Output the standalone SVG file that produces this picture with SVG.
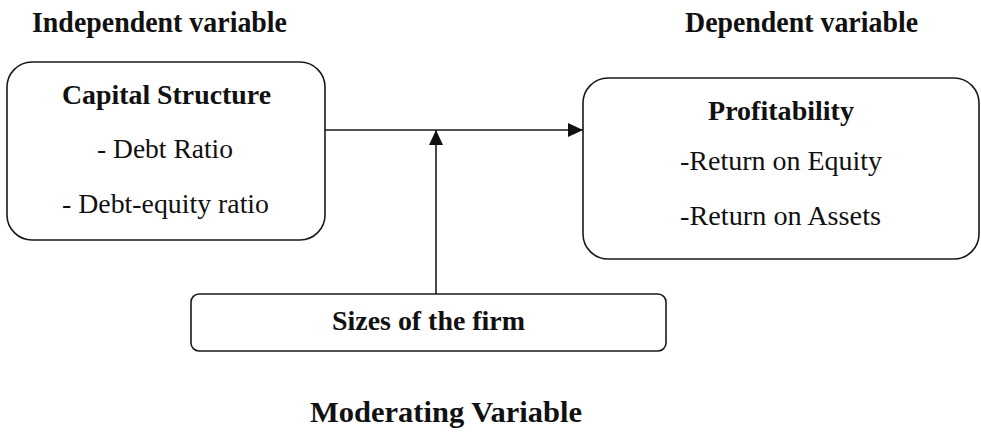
<svg xmlns="http://www.w3.org/2000/svg" width="981" height="442" viewBox="0 0 981 442" font-family="Liberation Serif, DejaVu Serif, serif">
<style>
.box{fill:#fff;stroke:#1a1a1a;stroke-width:1.6}
.t{fill:#111;text-anchor:middle}
.b{font-weight:bold}
.line{stroke:#1a1a1a;stroke-width:1.6;fill:none}
</style>
<defs>
<marker id="ah" markerWidth="15" markerHeight="14" refX="15" refY="7" orient="auto" markerUnits="userSpaceOnUse">
<path d="M0,0 L15,7 L0,14 Z" fill="#111"/>
</marker>
</defs>
<rect width="981" height="442" fill="#fff"/>
<g id="header-independent"><text class="t b" x="159.5" y="32" font-size="29" textLength="255" lengthAdjust="spacingAndGlyphs">Independent variable</text></g>
<g id="header-dependent"><text class="t b" x="801.5" y="32" font-size="29" textLength="233" lengthAdjust="spacingAndGlyphs">Dependent variable</text></g>
<g id="capital-structure">
<rect class="box" x="7" y="62" width="318" height="178" rx="25"/>
<text class="t b" x="166.5" y="104" font-size="27.5" textLength="209" lengthAdjust="spacingAndGlyphs">Capital Structure</text>
<text class="t" x="165" y="158" font-size="27.5" textLength="136" lengthAdjust="spacingAndGlyphs">- Debt Ratio</text>
<text class="t" x="165.5" y="213" font-size="27.5" textLength="207" lengthAdjust="spacingAndGlyphs">- Debt-equity ratio</text>
</g>
<g id="profitability">
<rect class="box" x="583" y="78" width="396" height="181" rx="25"/>
<text class="t b" x="781" y="120" font-size="27.5" textLength="146" lengthAdjust="spacingAndGlyphs">Profitability</text>
<text class="t" x="781" y="170" font-size="27.5" textLength="202" lengthAdjust="spacingAndGlyphs">-Return on Equity</text>
<text class="t" x="780.5" y="225" font-size="27.5" textLength="201" lengthAdjust="spacingAndGlyphs">-Return on Assets</text>
</g>
<g id="firm-size">
<rect class="box" x="191" y="294" width="475" height="57" rx="8"/>
<text class="t b" x="428.5" y="330" font-size="28" textLength="193" lengthAdjust="spacingAndGlyphs">Sizes of the firm</text>
</g>
<g id="moderating-label"><text class="t b" x="446" y="422" font-size="30" textLength="272" lengthAdjust="spacingAndGlyphs">Moderating Variable</text></g>
<g id="connectors">
<line class="line" x1="325" y1="130" x2="583" y2="130" marker-end="url(#ah)"/>
<line class="line" x1="436" y1="294" x2="436" y2="130" marker-end="url(#ah)"/>
</g>
</svg>
